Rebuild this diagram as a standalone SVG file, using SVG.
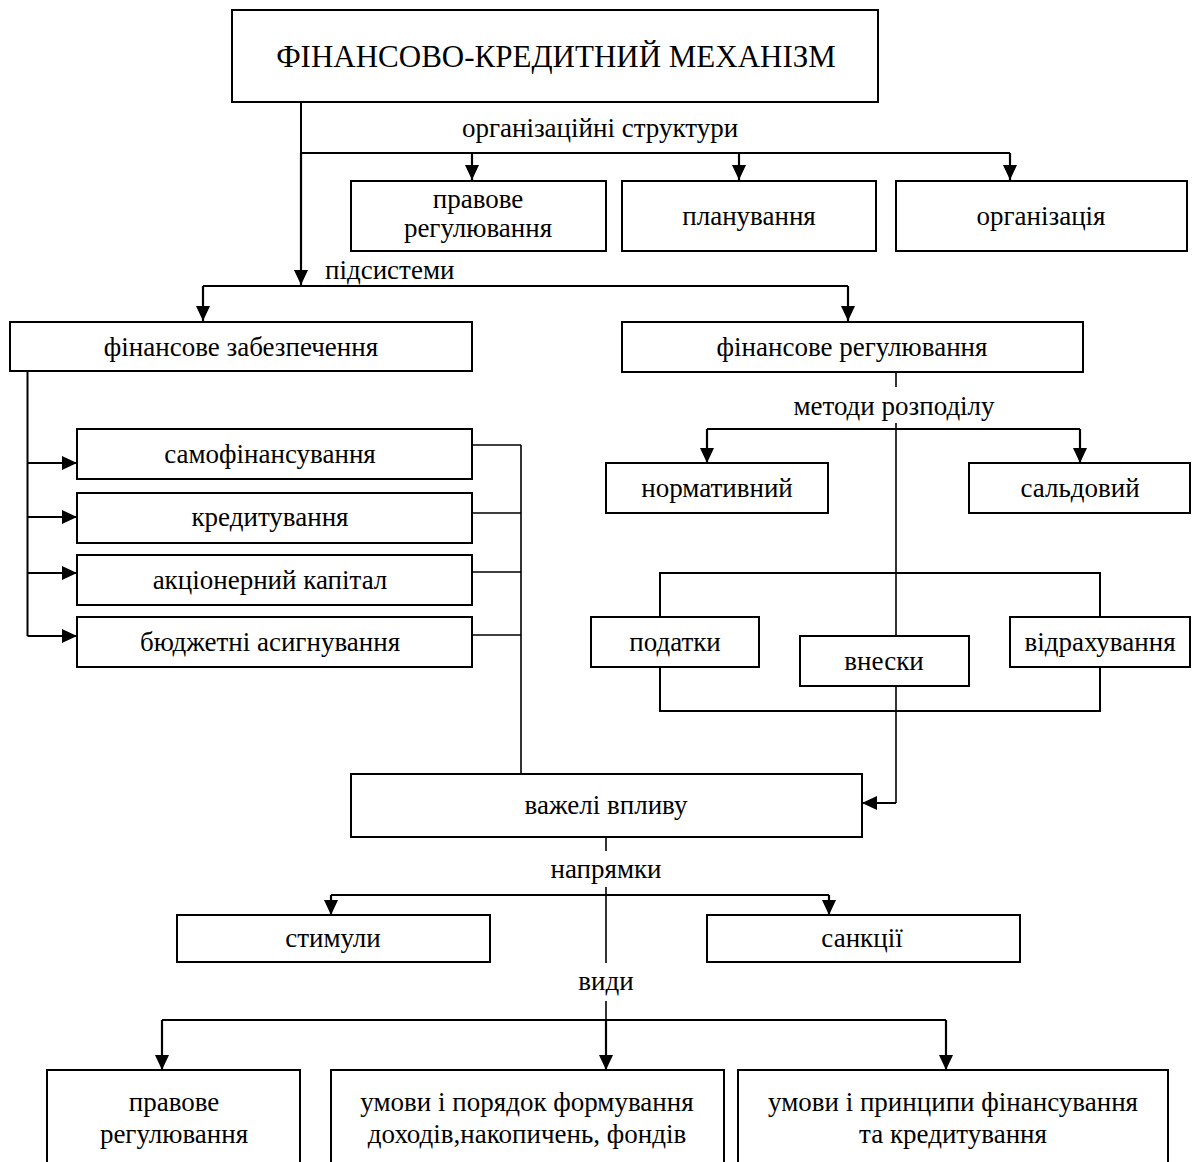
<svg xmlns="http://www.w3.org/2000/svg" width="1199" height="1162" viewBox="0 0 1199 1162">
  <style>
    .box { fill: #fff; stroke: #000; stroke-width: 2; }
    .t { font-family: "Liberation Serif", "Times New Roman", serif; font-size: 27px; fill: #000; text-anchor: middle; }
    .title { font-size: 31px; }
    .lbl { font-family: "Liberation Serif", "Times New Roman", serif; font-size: 27px; fill: #000; text-anchor: middle; }
    .ln { fill: none; stroke: #000; stroke-width: 2; }
    .thin { fill: none; stroke: #000; stroke-width: 1.6; }
    .arr { fill: none; stroke: #000; stroke-width: 2.2; marker-end: url(#ah); }
  </style>
  <defs>
    <marker id="ah" markerUnits="userSpaceOnUse" markerWidth="16" markerHeight="14" refX="15" refY="7" orient="auto">
      <path d="M0,0 L15,7 L0,14 z" fill="#000"/>
    </marker>
  </defs>
  <rect width="1199" height="1162" fill="#fff"/>

  <g id="connectors">
    <!-- trunk from the top box -->
    <path class="ln" d="M301,102 V153 H1010"/>
    <path class="arr" d="M301,153 V285"/>
    <path class="arr" d="M472,153 V180"/>
    <path class="arr" d="M739,153 V180"/>
    <path class="arr" d="M1010,153 V180"/>
    <!-- subsystems split -->
    <path class="ln" d="M203,286 H848"/>
    <path class="arr" d="M203,286 V321"/>
    <path class="arr" d="M848,286 V321"/>
    <!-- financial provision branch -->
    <path class="ln" d="M27.5,371 V636"/>
    <path class="arr" d="M27.5,463 H77"/>
    <path class="arr" d="M27.5,517 H77"/>
    <path class="arr" d="M27.5,573 H77"/>
    <path class="arr" d="M27.5,636 H77"/>
    <path class="thin" d="M472,445 H521 M472,513 H521 M472,572 H521 M472,635 H521 M521,445 V774"/>
    <!-- financial regulation branch -->
    <path class="thin" d="M896,372 V387"/>
    <path class="thin" d="M896,423 V803"/>
    <path class="arr" d="M896,803 H862"/>
    <path class="ln" d="M707,429 H1080"/>
    <path class="arr" d="M707,429 V463"/>
    <path class="arr" d="M1080,429 V463"/>
    <path class="ln" d="M660,617 V573 H1100 V617 M660,667 V711 H1100 V667"/>
    <!-- levers of influence -->
    <path class="thin" d="M606,837 V851"/>
    <path class="thin" d="M606,887 V963"/>
    <path class="ln" d="M331,895 H829"/>
    <path class="arr" d="M331,895 V915"/>
    <path class="arr" d="M829,895 V915"/>
    <path class="thin" d="M606,1001 V1020"/>
    <path class="ln" d="M162,1020 H946"/>
    <path class="arr" d="M162,1020 V1070"/>
    <path class="arr" d="M606,1020 V1070"/>
    <path class="arr" d="M946,1020 V1070"/>
  </g>

  <g id="labels">
    <text class="lbl" x="600" y="137">організаційні структури</text>
    <text class="lbl" x="325" y="279" text-anchor="start" style="text-anchor:start">підсистеми</text>
    <text class="lbl" x="894" y="415">методи розподілу</text>
    <text class="lbl" x="606" y="878">напрямки</text>
    <text class="lbl" x="606" y="990">види</text>
  </g>

  <g id="n-mechanism">
    <rect class="box" x="232" y="10" width="646" height="92"/>
    <text class="t title" x="556" y="67">ФІНАНСОВО-КРЕДИТНИЙ МЕХАНІЗМ</text>
  </g>
  <g id="n-legal">
    <rect class="box" x="351" y="181" width="255" height="70"/>
    <text class="t" x="478" y="208">правове</text>
    <text class="t" x="478" y="237">регулювання</text>
  </g>
  <g id="n-planning">
    <rect class="box" x="622" y="181" width="254" height="70"/>
    <text class="t" x="749" y="225">планування</text>
  </g>
  <g id="n-organization">
    <rect class="box" x="896" y="181" width="291" height="70"/>
    <text class="t" x="1041" y="225">організація</text>
  </g>
  <g id="n-provision">
    <rect class="box" x="10" y="322" width="462" height="49"/>
    <text class="t" x="241" y="356">фінансове забезпечення</text>
  </g>
  <g id="n-regulation">
    <rect class="box" x="622" y="322" width="461" height="50"/>
    <text class="t" x="852" y="356">фінансове регулювання</text>
  </g>
  <g id="n-self">
    <rect class="box" x="77" y="429" width="395" height="50"/>
    <text class="t" x="270" y="463">самофінансування</text>
  </g>
  <g id="n-credit">
    <rect class="box" x="77" y="493" width="395" height="50"/>
    <text class="t" x="270" y="526">кредитування</text>
  </g>
  <g id="n-equity">
    <rect class="box" x="77" y="555" width="395" height="50"/>
    <text class="t" x="270" y="589">акціонерний капітал</text>
  </g>
  <g id="n-budget">
    <rect class="box" x="77" y="617" width="395" height="50"/>
    <text class="t" x="270" y="651">бюджетні асигнування</text>
  </g>
  <g id="n-normative">
    <rect class="box" x="606" y="463" width="222" height="50"/>
    <text class="t" x="717" y="497">нормативний</text>
  </g>
  <g id="n-balance">
    <rect class="box" x="969" y="463" width="221" height="50"/>
    <text class="t" x="1080" y="497">сальдовий</text>
  </g>
  <g id="n-taxes">
    <rect class="box" x="591" y="617" width="168" height="50"/>
    <text class="t" x="675" y="651">податки</text>
  </g>
  <g id="n-contributions">
    <rect class="box" x="800" y="636" width="169" height="50"/>
    <text class="t" x="884" y="670">внески</text>
  </g>
  <g id="n-deductions">
    <rect class="box" x="1010" y="617" width="180" height="50"/>
    <text class="t" x="1100" y="651">відрахування</text>
  </g>
  <g id="n-levers">
    <rect class="box" x="351" y="774" width="511" height="63"/>
    <text class="t" x="606" y="814">важелі впливу</text>
  </g>
  <g id="n-incentives">
    <rect class="box" x="177" y="915" width="313" height="47"/>
    <text class="t" x="333" y="947">стимули</text>
  </g>
  <g id="n-sanctions">
    <rect class="box" x="707" y="915" width="313" height="47"/>
    <text class="t" x="862" y="947">санкції</text>
  </g>
  <g id="n-legal-kind">
    <rect class="box" x="47" y="1070" width="253" height="110"/>
    <text class="t" x="174" y="1111">правове</text>
    <text class="t" x="174" y="1143">регулювання</text>
  </g>
  <g id="n-income">
    <rect class="box" x="331" y="1070" width="393" height="110"/>
    <text class="t" x="527" y="1111">умови і порядок формування</text>
    <text class="t" x="527" y="1143">доходів,накопичень, фондів</text>
  </g>
  <g id="n-financing">
    <rect class="box" x="738" y="1070" width="430" height="110"/>
    <text class="t" x="953" y="1111">умови і принципи фінансування</text>
    <text class="t" x="953" y="1143">та кредитування</text>
  </g>
</svg>
